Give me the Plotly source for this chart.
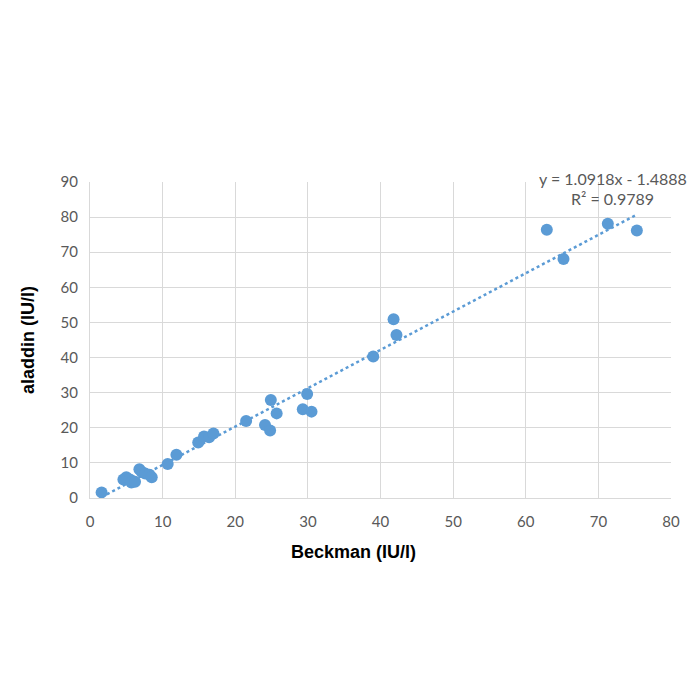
import plotly.graph_objects as go
import numpy as np

beckman = [1.6, 4.6, 5.0, 5.5, 5.7, 6.2, 6.8, 7.1, 7.6, 8.2, 8.5, 10.7, 11.9,
           14.9, 15.7, 16.4, 17.0, 21.5, 24.1, 24.8, 24.9, 25.7, 29.3, 29.9, 30.5,
           39.0, 41.8, 42.2, 62.9, 65.2, 71.3, 75.3]
aladdin = [1.6, 5.3, 5.9, 5.3, 4.4, 4.6, 8.2, 7.5, 7.0, 6.6, 5.9, 9.7, 12.3,
           15.8, 17.5, 17.3, 18.4, 21.9, 20.8, 19.2, 27.9, 24.1, 25.3, 29.6, 24.6,
           40.3, 50.9, 46.4, 76.4, 68.1, 78.1, 76.2]
slope = 1.0918
intercept = -1.4888
r2 = 0.9789
x_ticks = [0, 10, 20, 30, 40, 50, 60, 70, 80]
y_ticks = [0, 10, 20, 30, 40, 50, 60, 70, 80, 90]

blue = "#5B9BD5"
gray = "#595959"
grid = "#D9D9D9"
font = "Lato"
title_font = "Liberation Sans"

xfit = np.array([min(beckman), max(beckman)])
yfit = slope * xfit + intercept

fig = go.Figure()
fig.add_trace(go.Scatter(x=xfit, y=yfit, mode="lines",
                         line=dict(color=blue, width=2.5, dash="dot"),
                         hoverinfo="skip", showlegend=False))
fig.add_trace(go.Scatter(x=beckman, y=aladdin, mode="markers",
                         marker=dict(color=blue, size=12),
                         showlegend=False))

fig.add_annotation(xref="paper", yref="paper", x=0.900, y=1.0095,
                   xanchor="center", yanchor="middle", showarrow=False,
                   text=f"y = {slope}x - {abs(intercept)}",
                   font=dict(family=font, size=16, color=gray))
fig.add_annotation(xref="paper", yref="paper", x=0.900, y=0.949,
                   xanchor="center", yanchor="middle", showarrow=False,
                   text=f"R² = {r2}",
                   font=dict(family=font, size=16, color=gray))

fig.add_annotation(xref="paper", yref="paper", x=0.4527, y=-0.1709,
                   xanchor="center", yanchor="middle", showarrow=False,
                   text="<b>Beckman (IU/l)</b>",
                   font=dict(family=title_font, size=18, color="black"))
fig.add_annotation(xref="paper", yref="paper", x=-0.1067, y=0.5,
                   xanchor="center", yanchor="middle", showarrow=False,
                   textangle=-90,
                   text="<b>aladdin (IU/l)</b>",
                   font=dict(family=title_font, size=18, color="black"))

fig.update_layout(
    width=700, height=700,
    margin=dict(l=90, r=29, t=182, b=202),
    paper_bgcolor="white", plot_bgcolor="white",
    font=dict(family=font, size=15, color=gray),
)
fig.update_xaxes(range=[0, 80], tickvals=x_ticks, showgrid=True, gridcolor=grid,
                 gridwidth=1, zeroline=False, showline=True, linecolor=grid,
                 ticks="outside", ticklen=10, tickcolor="rgba(0,0,0,0)",
                 tickfont=dict(family=font, size=15, color=gray))
fig.update_yaxes(range=[0, 90], tickvals=y_ticks, showgrid=True, gridcolor=grid,
                 gridwidth=1, zeroline=False, showline=True, linecolor=grid,
                 ticks="outside", ticklen=8, tickcolor="rgba(0,0,0,0)",
                 tickfont=dict(family=font, size=15, color=gray))

fig.write_html("out.html")
